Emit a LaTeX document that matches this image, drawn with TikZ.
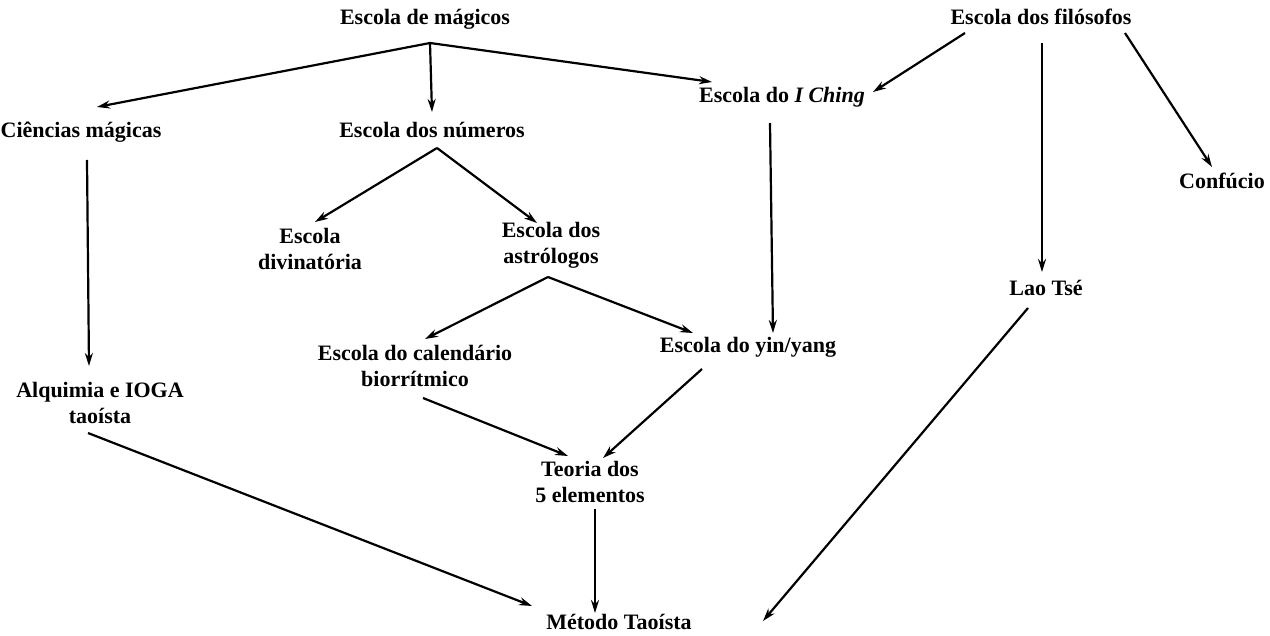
\documentclass[tikz,border=0pt]{standalone}
\usepackage{fontspec}
\setmainfont{Liberation Serif}
\usepackage{tikz}
\usetikzlibrary{
    arrows.meta,
    calc
}
\tikzstyle{school} = [
    align=center,
    inner sep=0pt,
    font=\fontsize{11}{13}\selectfont\bfseries
]
\tikzstyle{arrow} = [
    -{Stealth[length=6.5pt,width=4pt]},
    line width=1.1pt,
    draw=black
]

\begin{document}
\begin{tikzpicture}[x=0.5pt, y=-0.5pt]
    \useasboundingbox (0,0) rectangle (1270,636);

    % Sources
    \node[school] (magicos) at (425,19) {Escola de mágicos};
    \node[school] (filosofos) at (1041,17) {Escola dos filósofos};

    % Second level
    \node[school] (ciencias) at (81,132) {Ciências mágicas};
    \node[school] (numeros) at (432,130) {Escola dos números};
    \node[school] (iching) at (782,97) {Escola do \textit{I Ching}};
    \node[school] (confucio) at (1222,181) {Confúcio};

    % Third level
    \node[school] (divinatoria) at (310,249) {Escola\\divinatória};
    \node[school] (astrologos) at (551,245) {Escola dos\\astrólogos};
    \node[school] (laotse) at (1046,288) {Lao Tsé};

    % Fourth level
    \node[school] (calendario) at (415,366) {Escola do calendário\\biorrítmico};
    \node[school] (yinyang) at (748,347) {Escola do yin/yang};
    \node[school] (alquimia) at (100,403) {Alquimia e IOGA\\taoísta};

    % Bottom
    \node[school] (teoria) at (590,482) {Teoria dos\\5 elementos};
    \node[school] (metodo) at (619,622) {Método Taoísta};

    % Arrows
    \draw[arrow] ($(magicos)+(5,24)$) -- ($(ciencias)+(16,-25)$);
    \draw[arrow] ($(magicos)+(5,24)$) -- ($(numeros)+(0,-18)$);
    \draw[arrow] ($(magicos)+(5,24)$) -- ($(iching)+(-70,-15)$);
    \draw[arrow] ($(filosofos)+(-76,16)$) -- ($(iching)+(91,-5)$);
    \draw[arrow] ($(filosofos)+(1,26)$) -- ($(laotse)+(-4,-16)$);
    \draw[arrow] ($(filosofos)+(84,16)$) -- ($(confucio)+(-10,-14)$);
    \draw[arrow] ($(ciencias)+(6,28)$) -- ($(alquimia)+(-11,-37)$);
    \draw[arrow] ($(numeros)+(5,18)$) -- ($(divinatoria)+(5,-27)$);
    \draw[arrow] ($(numeros)+(5,18)$) -- ($(astrologos)+(-14,-22)$);
    \draw[arrow] ($(astrologos)+(-3,32)$) -- ($(calendario)+(10,-27)$);
    \draw[arrow] ($(astrologos)+(-3,32)$) -- ($(yinyang)+(-55,-14)$);
    \draw[arrow] ($(iching)+(-12,26)$) -- ($(yinyang)+(25,-14)$);
    \draw[arrow] ($(calendario)+(8,32)$) -- ($(teoria)+(-22,-26)$);
    \draw[arrow] ($(yinyang)+(-46,22)$) -- ($(teoria)+(13,-24)$);
    \draw[arrow] ($(alquimia)+(-12,30)$) -- ($(metodo)+(-87,-16)$);
    \draw[arrow] ($(teoria)+(5,27)$) -- ($(metodo)+(-24,-9)$);
    \draw[arrow] ($(laotse)+(-18,20)$) -- ($(metodo)+(144,-1)$);
\end{tikzpicture}
\end{document}
